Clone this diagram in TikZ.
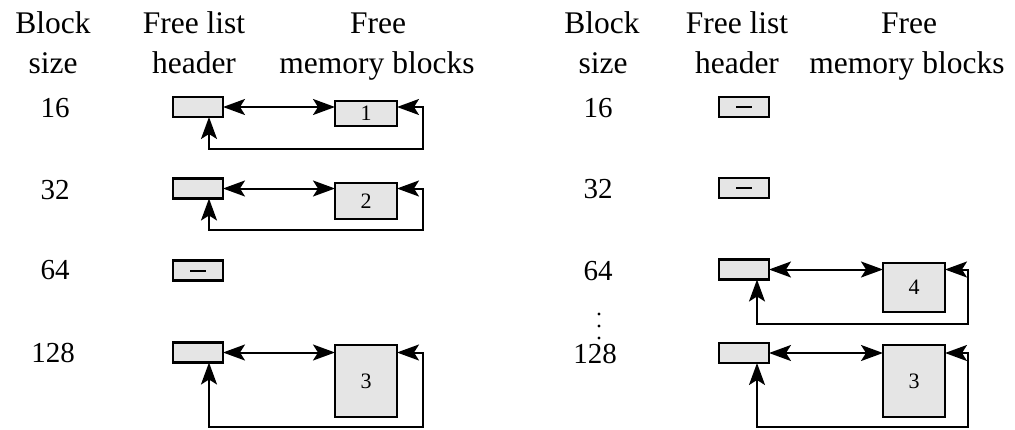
\documentclass[tikz,border=0pt]{standalone}
\usepackage{fontspec}
\setmainfont{Liberation Serif}
\usetikzlibrary{arrows.meta}
\begin{document}
\begin{tikzpicture}[x=1pt,y=-1pt,
  every node/.style={inner sep=0pt, outer sep=0pt},
  title/.style={anchor=base, font=\fontsize{31.5}{36}\selectfont},
  size/.style={anchor=base, font=\fontsize{29}{34}\selectfont},
  header/.style={draw, line width=2.4pt, fill=black!10, minimum width=50pt, minimum height=20pt},
  memblock/.style={draw, line width=2.4pt, fill=black!10, minimum width=62pt, anchor=north west,
    font=\fontsize{22}{22}\selectfont},
  headtip/.tip={Stealth[length=22pt 0 0, width=16pt 0 0, inset=5pt 0 0]},
  link/.style={line width=2pt, headtip-headtip},
  nullmark/.style={line width=2pt},
  vdot/.style={fill, circle, minimum size=3.2pt}]
\useasboundingbox (0,0) rectangle (1015,429);

% ---------- left panel ----------
\node[title] (lbs1) at (53,33) {Block};
\node[title] (lbs2) at (53,73) {size};
\node[title] (lfl1) at (194,33) {Free list};
\node[title] (lfl2) at (194,73) {header};
\node[title] (lfm1) at (378,33) {Free};
\node[title] (lfm2) at (377,73) {memory blocks};

\node[size] (ls16) at (55,117) {16};
\node[size] (ls32) at (55,199) {32};
\node[size] (ls64) at (55,279) {64};
\node[size] (ls128) at (53,362) {128};

\node[header] (lh16) at (198,107) {};
\node[header] (lh32) at (198,188.5) {};
\node[header] (lh64) at (198,270.5) {};
\node[header] (lh128) at (198,352.5) {};
\draw[nullmark] ([xshift=-8pt]lh64.center) -- ([xshift=8pt]lh64.center);

\node[memblock, minimum height=25pt] (lb1) at (335,101) {1};
\node[memblock, minimum height=36pt] (lb2) at (335,183) {2};
\node[memblock, minimum height=72pt] (lb3) at (335,345) {3};

\draw[link] (lh16.east) -- (lb1.west |- lh16.east);
\draw[link] ([xshift=11pt]lh16.south) |- (423,149) |- (lb1.east |- lh16.east);
\draw[link] (lh32.east) -- (lb2.west |- lh32.east);
\draw[link] ([xshift=11pt]lh32.south) |- (423,230) |- (lb2.east |- lh32.east);
\draw[link] (lh128.east) -- (lb3.west |- lh128.east);
\draw[link] ([xshift=11pt]lh128.south) |- (423,427) |- (lb3.east |- lh128.east);

% ---------- right panel ----------
\node[title] (rbs1) at (602,33) {Block};
\node[title] (rbs2) at (603,73) {size};
\node[title] (rfl1) at (737,33) {Free list};
\node[title] (rfl2) at (737,73) {header};
\node[title] (rfm1) at (909,33) {Free};
\node[title] (rfm2) at (907,73) {memory blocks};

\node[size] (rs16) at (598,117) {16};
\node[size] (rs32) at (598,198) {32};
\node[size] (rs64) at (598,280) {64};
\node[size] (rs128) at (595,363) {128};

\node[vdot] (rd1) at (599,314) {};
\node[vdot] (rd2) at (599,326) {};
\node[vdot] (rd3) at (599,338) {};

\node[header] (rh16) at (744,107) {};
\node[header] (rh32) at (744,188) {};
\node[header] (rh64) at (744,269.5) {};
\node[header] (rh128) at (744,353) {};
\draw[nullmark] ([xshift=-8pt]rh16.center) -- ([xshift=8pt]rh16.center);
\draw[nullmark] ([xshift=-8pt]rh32.center) -- ([xshift=8pt]rh32.center);

\node[memblock, minimum height=49pt] (rb4) at (883,263) {4};
\node[memblock, minimum height=72pt] (rb3) at (883,345) {3};

\draw[link] (rh64.east) -- (rb4.west |- rh64.east);
\draw[link] ([xshift=13pt]rh64.south) |- (968,324) |- (rb4.east |- rh64.east);
\draw[link] (rh128.east) -- (rb3.west |- rh128.east);
\draw[link] ([xshift=13pt]rh128.south) |- (968,427) |- (rb3.east |- rh128.east);
\end{tikzpicture}
\end{document}
